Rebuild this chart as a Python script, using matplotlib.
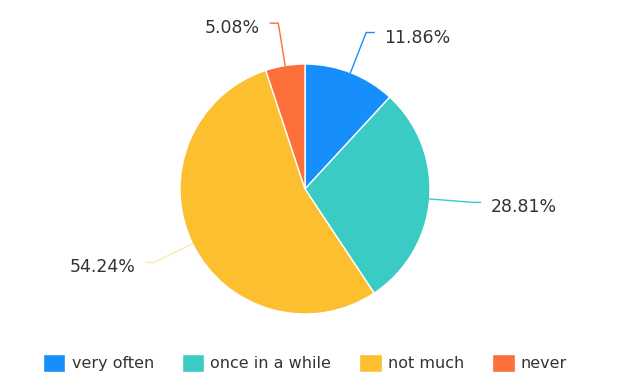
import matplotlib.pyplot as plt
import numpy as np

# survey answers, share of respondents (%)
labels = ["very often", "once in a while", "not much", "never"]
shares = [11.86, 28.81, 54.24, 5.08]
colors = ["#168efc", "#3acbc4", "#fbbf30", "#fc6e3a"]

W, H = 622, 380
CX, CY, R = 305, 191, 125  # pie centre / radius in pixel units (y up)

fig = plt.figure(figsize=(W / 100, H / 100), dpi=100)
ax = fig.add_axes([0, 0, 1, 1])

wedges, _ = ax.pie(
    shares,
    colors=colors,
    startangle=90,
    counterclock=False,
    center=(CX, CY),
    radius=R,
    wedgeprops=dict(edgecolor="white", linewidth=1),
    frame=True,
)
ax.set_xlim(0, W)
ax.set_ylim(0, H)
ax.set_aspect("equal")
ax.axis("off")

# leader lines and percentage labels
for w, val, col in zip(wedges, shares, colors):
    ang = np.deg2rad((w.theta1 + w.theta2) / 2)
    dx, dy = np.cos(ang), np.sin(ang)
    x0, y0 = CX + R * dx, CY + R * dy
    x1, y1 = CX + 168 * dx, CY + 168 * dy
    side = 1 if dx >= 0 else -1
    x2 = x1 + side * 8
    lc = col if val != 54.24 else "#fde9b0"
    ax.plot([x0, x1, x2], [y0, y1, y1], color=lc, lw=1)
    ax.text(x2 + side * 10, y1 - 5, f"{val:.2f}%", fontsize=12.5,
            color="#333333", ha="left" if side > 0 else "right", va="center")

leg = ax.legend(
    wedges, labels, loc="center", bbox_to_anchor=(305 / W, 17 / H),
    ncol=4, frameon=False, fontsize=11.5, handlelength=1.4, handleheight=1.3,
    handletextpad=0.4, columnspacing=1.75, labelcolor="#333333",
)

fig.savefig("out.png", dpi=100)
